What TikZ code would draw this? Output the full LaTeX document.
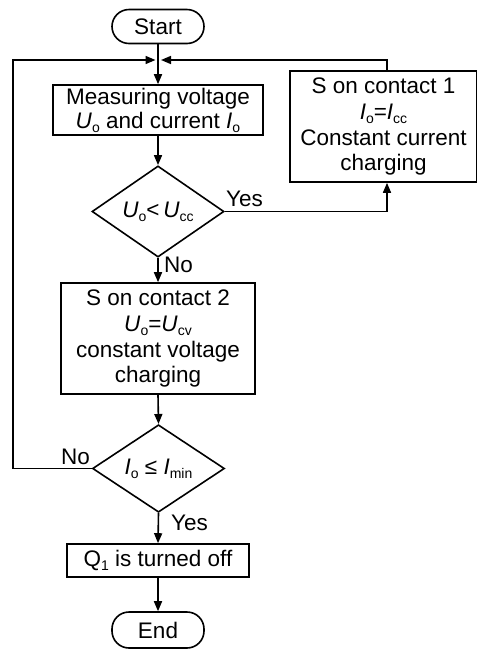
\documentclass[tikz,border=0pt]{standalone}
\usepackage{fontspec}
\setmainfont{Liberation Sans}
\usetikzlibrary{arrows.meta,shapes.geometric}
\newcommand\sbs[1]{\raisebox{-0.35ex}{\fontsize{14}{14}\selectfont #1}}
\begin{document}
\begin{tikzpicture}[x=1pt,y=-1pt,
  every node/.style={font=\fontsize{22.5}{25}\selectfont, inner sep=0pt},
  arr/.style={line width=1.6pt, -{Triangle[length=10pt,width=8pt]}},
  term/.style={draw, line width=1.6pt, rounded corners=17pt},
  box/.style={draw, line width=1.6pt, align=center},
  dec/.style={draw, line width=1.6pt, diamond, minimum width=132pt, minimum height=79pt}]
\useasboundingbox (0,0) rectangle (477,649);
\node[term, minimum width=92pt, minimum height=34pt] (start) at (158,26.5) {Start};
\node[box, minimum width=210pt, minimum height=50pt] (meas) at (158,110) {Measuring voltage\\[-1pt]\textit{U}\sbs{o} and current \textit{I}\sbs{o}};
\node[dec] (d1) at (158,211.5) {\textit{U}\sbs{o}<\,\textit{U}\sbs{cc}};
\node[box, minimum width=187pt, minimum height=111pt] (cc) at (383.5,126.5) {S on contact 1\\[1pt]\textit{I}\sbs{o}=\textit{I}\sbs{cc}\\[1pt]Constant current\\charging};
\node[box, minimum width=194pt, minimum height=111pt] (cv) at (158,338.5) {S on contact 2\\[1pt]\textit{U}\sbs{o}=\textit{U}\sbs{cv}\\[1pt]constant voltage\\charging};
\node[dec] (d2) at (158.5,468.5) {\textit{I}\sbs{o} ≤ \textit{I}\sbs{min}};
\node[box, minimum width=182pt, minimum height=33pt] (q1) at (158,560.5) {Q\sbs{1} is turned off};
\node[term, minimum width=92pt, minimum height=36pt] (end) at (158,630) {End};
\coordinate (jl) at (155.5,60);
\coordinate (jr) at (161,60);
\coordinate (lc) at (13,60);
\draw[arr] (start.south) -- (meas.north);
\draw[arr] (meas.south) -- (d1.north);
\draw[arr] (d1.south) -- (cv.north);
\draw[arr] (cv.south) -- (d2.north);
\draw[arr] (d2.south) -- (q1.north);
\draw[arr] (q1.south) -- (end.north);
\draw[arr] (d1.east) -| ([xshift=3.5pt]cc.south);
\draw[arr] ([xshift=3.5pt]cc.north) |- (jr);
\draw[arr] (d2.west) -| (lc) -- (jl);
\node[anchor=south west] (yes1) at (226,207) {Yes};
\node[anchor=west] (no1) at (164,265) {No};
\node[anchor=south east] (no2) at (90,465) {No};
\node[anchor=west] (yes2) at (171,523) {Yes};
\end{tikzpicture}
\end{document}
